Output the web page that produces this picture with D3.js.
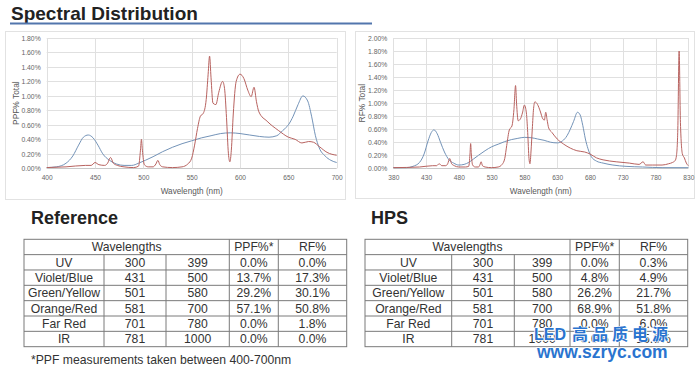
<!DOCTYPE html>
<html>
<head>
<meta charset="utf-8">
<script src="https://cdn.jsdelivr.net/npm/d3@7"></script>
<style>
   body { margin: 0; background: #fff; }
   svg text { font-family: "Liberation Sans", Arial, sans-serif; }
</style>
</head>
<body>
<svg id="chart" width="700" height="371"></svg>
<script>
// ---- spectrum data ----
// LED reference, PPF% (400-700nm)
var refPpfNm  = [400, 410, 420, 427, 433, 438, 443, 448, 453, 458, 465, 472, 480, 488, 495, 502, 510, 520, 530, 540, 550, 560, 570, 580, 590, 600, 610, 620, 630, 638, 644, 650, 655, 660, 665, 670, 674, 678, 682, 688, 694, 700];
var refPpfVal = [0.01, 0.02, 0.07, 0.17, 0.32, 0.43, 0.46, 0.42, 0.32, 0.20, 0.11, 0.06, 0.04, 0.04, 0.07, 0.11, 0.16, 0.23, 0.29, 0.34, 0.38, 0.42, 0.45, 0.48, 0.49, 0.48, 0.46, 0.44, 0.43, 0.45, 0.52, 0.60, 0.72, 0.88, 1.00, 0.93, 0.72, 0.45, 0.28, 0.17, 0.11, 0.08];

// HPS, PPF%
var hpsPpfNm  = [400, 420, 440, 446, 450, 454, 460, 463, 466, 469, 473, 480, 490, 495, 497, 498, 499, 501, 505, 510, 513, 515, 517, 520, 530, 540, 546, 550, 553, 556, 559, 562, 565, 567, 568.5, 570, 572, 575, 578, 582, 584, 586, 588, 589.5, 591, 593, 596, 600, 604, 608, 611.5, 614.5, 617, 619.5, 628, 640, 650, 657, 664, 671, 676, 682, 690, 700];
var hpsPpfVal = [0.01, 0.02, 0.04, 0.04, 0.08, 0.05, 0.04, 0.07, 0.15, 0.07, 0.04, 0.02, 0.01, 0.03, 0.25, 0.40, 0.25, 0.05, 0.02, 0.02, 0.06, 0.11, 0.05, 0.02, 0.01, 0.02, 0.06, 0.14, 0.32, 0.55, 0.72, 0.76, 0.95, 1.30, 1.55, 1.25, 0.90, 0.88, 1.05, 1.20, 1.10, 0.70, 0.20, 0.09, 0.25, 0.75, 1.20, 1.30, 1.24, 1.08, 0.99, 1.12, 0.92, 0.78, 0.65, 0.52, 0.43, 0.40, 0.35, 0.37, 0.36, 0.30, 0.22, 0.18];

// LED reference, RF% (380-830nm)
var refRfNm  = [380, 400, 410, 420, 427, 433, 438, 442, 447, 452, 458, 465, 472, 480, 488, 495, 502, 510, 520, 530, 540, 550, 560, 570, 580, 590, 600, 610, 620, 630, 638, 645, 650, 655, 661, 665, 669, 673, 677, 682, 690, 700, 715, 735, 760, 790, 830];
var refRfVal = [0.01, 0.01, 0.03, 0.09, 0.22, 0.42, 0.55, 0.59, 0.53, 0.40, 0.25, 0.13, 0.08, 0.05, 0.06, 0.09, 0.14, 0.20, 0.27, 0.33, 0.37, 0.41, 0.44, 0.46, 0.475, 0.47, 0.45, 0.43, 0.40, 0.39, 0.42, 0.50, 0.60, 0.72, 0.86, 0.82, 0.66, 0.45, 0.30, 0.18, 0.11, 0.08, 0.05, 0.03, 0.02, 0.01, 0.01];

// HPS, RF%
var hpsRfNm  = [380, 420, 440, 446, 450, 454, 460, 463, 466, 469, 473, 480, 490, 495, 497, 498, 499, 501, 505, 510, 512, 514, 516, 520, 530, 540, 546, 550, 553, 557, 561, 564, 566.5, 568, 570.5, 574, 577, 580, 583, 585, 587, 588.5, 590, 592, 594, 596, 600, 604, 608, 610.5, 612.5, 614.5, 617, 622, 630, 640, 650, 660, 672, 680, 690, 700, 720, 740, 755, 761, 765, 775, 790, 800, 806, 810, 812, 814, 816, 818, 821, 824, 827, 830];
var hpsRfVal = [0.01, 0.02, 0.04, 0.04, 0.07, 0.04, 0.04, 0.07, 0.15, 0.07, 0.04, 0.02, 0.02, 0.03, 0.22, 0.38, 0.22, 0.05, 0.02, 0.02, 0.05, 0.10, 0.04, 0.02, 0.01, 0.02, 0.06, 0.15, 0.35, 0.59, 0.65, 0.90, 1.27, 1.00, 0.73, 0.76, 0.85, 0.97, 0.85, 0.55, 0.15, 0.07, 0.25, 0.60, 0.92, 1.02, 0.98, 0.88, 0.76, 0.74, 0.86, 0.75, 0.62, 0.55, 0.45, 0.37, 0.31, 0.27, 0.25, 0.22, 0.16, 0.13, 0.10, 0.08, 0.06, 0.10, 0.05, 0.05, 0.05, 0.07, 0.09, 0.12, 0.20, 0.60, 1.80, 0.70, 0.22, 0.16, 0.08, 0.04];

var ppfTicks = [400, 450, 500, 550, 600, 650, 700];
var rfTicks  = [380, 430, 480, 530, 580, 630, 680, 730, 780, 830];

// ---- table data ----
var bands   = ["UV", "Violet/Blue", "Green/Yellow", "Orange/Red", "Far Red", "IR"];
var bandLo  = [300, 431, 501, 581, 701, 781];
var bandHi  = [399, 500, 580, 700, 780, 1000];
var refPpf  = [0.0, 13.7, 29.2, 57.1, 0.0, 0.0];
var refRf   = [0.0, 17.3, 30.1, 50.8, 1.8, 0.0];
var hpsPpf  = [0.0, 4.8, 26.2, 68.9, 0.0, 0.0];
var hpsRf   = [0.3, 4.9, 21.7, 51.8, 6.0, 15.3];

var blueColor = "#7393b8";
var redColor = "#b8625f";

var svg = d3.select("#chart");

// Title with blue rule underneath
svg.append("text")
   .attr("x", 11)
   .attr("y", 20)
   .attr("font-size", "19px")
   .attr("font-weight", "bold")
   .attr("fill", "#222")
   .text("Spectral Distribution");

svg.append("line")
   .attr("x1", 10).attr("x2", 372)
   .attr("y1", 23.5).attr("y2", 23.5)
   .attr("stroke", "#5276ad")
   .attr("stroke-width", 2);

function drawSpectrum(o) {
   // light panel frame
   svg.append("rect")
      .attr("x", o.panel[0] + 0.5)
      .attr("y", o.panel[1] + 0.5)
      .attr("width", o.panel[2] - o.panel[0])
      .attr("height", o.panel[3] - o.panel[1])
      .attr("fill", "#fff")
      .attr("stroke", "#e2e2e2");

   var xScale = d3.scaleLinear().domain(o.xDomain).range([o.left, o.right]);
   var yScale = d3.scaleLinear().domain([0, o.yMax]).range([o.bottom, o.top]);

   var g = svg.append("g");

   // horizontal grid
   var yTicks = d3.range(0, o.yMax + 0.001, 0.2);
   g.selectAll(".hgrid")
      .data(yTicks)
      .enter().append("line")
      .attr("x1", o.left).attr("x2", o.right)
      .attr("y1", function (d) { return Math.round(yScale(d)) + 0.5; })
      .attr("y2", function (d) { return Math.round(yScale(d)) + 0.5; })
      .attr("stroke", function (d) { return d === 0 ? "#c8c8c8" : "#e0e0e0"; });

   // vertical grid
   g.selectAll(".vgrid")
      .data(o.xTicks)
      .enter().append("line")
      .attr("x1", function (d) { return Math.round(xScale(d)) + 0.5; })
      .attr("x2", function (d) { return Math.round(xScale(d)) + 0.5; })
      .attr("y1", o.top).attr("y2", o.bottom)
      .attr("stroke", "#e0e0e0");

   // Y axis labels (values are already percentages)
   var yAxis = g.append("g")
      .attr("transform", "translate(" + o.left + ",0)")
      .call(d3.axisLeft(yScale).tickValues(yTicks)
         .tickFormat(function (d) { return d3.format(".2f")(d) + "%"; })
         .tickSize(0).tickPadding(6));
   yAxis.select(".domain").remove();
   yAxis.selectAll("text")
      .attr("font-size", "6.8px")
      .attr("font-family", "Liberation Sans, Arial, sans-serif")
      .attr("fill", "#666");

   // X axis labels
   var xAxis = g.append("g")
      .attr("transform", "translate(0," + o.bottom + ")")
      .call(d3.axisBottom(xScale).tickValues(o.xTicks).tickFormat(d3.format("d")).tickSize(0).tickPadding(7));
   xAxis.select(".domain").remove();
   xAxis.selectAll("text")
      .attr("font-size", "6.6px")
      .attr("font-family", "Liberation Sans, Arial, sans-serif")
      .attr("fill", "#666");

   // axis titles
   g.append("text")
      .attr("x", (o.left + o.right) / 2)
      .attr("y", o.bottom + 25.5)
      .attr("text-anchor", "middle")
      .attr("font-size", "8.2px")
      .attr("fill", "#595959")
      .text("Wavelength (nm)");

   g.append("text")
      .attr("transform", "translate(" + o.yTitleX + "," + ((o.top + o.bottom) / 2) + ") rotate(-90)")
      .attr("text-anchor", "middle")
      .attr("font-size", "8.4px")
      .attr("fill", "#595959")
      .text(o.yTitle);

   var line = d3.line()
      .x(function (d) { return xScale(d[0]); })
      .y(function (d) { return yScale(d[1]); })
      .curve(d3.curveMonotoneX);

   o.series.forEach(function (s) {
      var pts = s.nm.map(function (n, i) { return [n, s.val[i]]; });
      g.append("path")
         .datum(pts)
         .attr("fill", "none")
         .attr("stroke", s.color)
         .attr("stroke-width", 1)
         .attr("d", line);
   });
}

drawSpectrum({
   panel: [5, 31, 345, 199],
   left: 46.7, right: 336.7, top: 38, bottom: 168.3,
   xDomain: [400, 700], xTicks: ppfTicks, yMax: 1.8,
   yTitle: "PPF% Total", yTitleX: 19,
   series: [
      { nm: refPpfNm, val: refPpfVal, color: blueColor },
      { nm: hpsPpfNm, val: hpsPpfVal, color: redColor }
   ]
});

drawSpectrum({
   panel: [355, 31, 694, 198],
   left: 393.3, right: 688.3, top: 38, bottom: 168.3,
   xDomain: [380, 830], xTicks: rfTicks, yMax: 2.0,
   yTitle: "RF% Total", yTitleX: 365,
   series: [
      { nm: refRfNm, val: refRfVal, color: blueColor },
      { nm: hpsRfNm, val: hpsRfVal, color: redColor }
   ]
});

// ---- tables ----
var pct = function (v) { return d3.format(".1f")(v) + "%"; };

function drawTable(title, titleX, cols, ppf, rf) {
   var top = 239.3, rowH = 15.34;
   var g = svg.append("g");

   g.append("text")
      .attr("x", titleX)
      .attr("y", 224)
      .attr("font-size", "18px")
      .attr("font-weight", "bold")
      .attr("fill", "#222")
      .text(title);

   var bottom = top + rowH * 7;

   // outer frame
   g.append("rect")
      .attr("x", cols[0]).attr("y", top)
      .attr("width", cols[5] - cols[0]).attr("height", bottom - top)
      .attr("fill", "none")
      .attr("stroke", "#7a7a7a");

   // row lines
   d3.range(1, 7).forEach(function (r) {
      g.append("line")
         .attr("x1", cols[0]).attr("x2", cols[5])
         .attr("y1", top + r * rowH).attr("y2", top + r * rowH)
         .attr("stroke", "#7a7a7a");
   });

   // column lines (first two skip the header row)
   [1, 2, 3, 4].forEach(function (c) {
      g.append("line")
         .attr("x1", cols[c]).attr("x2", cols[c])
         .attr("y1", c < 3 ? top + rowH : top).attr("y2", bottom)
         .attr("stroke", "#7a7a7a");
   });

   var mid = function (c) { return (cols[c] + cols[c + 1]) / 2; };
   var cell = function (x, r, txt) {
      g.append("text")
         .attr("x", x)
         .attr("y", top + r * rowH + rowH / 2 + 4.3)
         .attr("text-anchor", "middle")
         .attr("font-size", "12.2px")
         .attr("fill", "#333")
         .text(txt);
   };

   cell((cols[0] + cols[3]) / 2, 0, "Wavelengths");
   cell(mid(3), 0, "PPF%*");
   cell(mid(4), 0, "RF%");

   bands.forEach(function (b, i) {
      cell(mid(0), i + 1, b);
      cell(mid(1), i + 1, bandLo[i]);
      cell(mid(2), i + 1, bandHi[i]);
      cell(mid(3), i + 1, pct(ppf[i]));
      cell(mid(4), i + 1, pct(rf[i]));
   });
}

drawTable("Reference", 31, [24, 104, 166, 229.3, 278.3, 346.7], refPpf, refRf);
drawTable("HPS", 371, [365, 451.7, 514.3, 570, 619.3, 687.7], hpsPpf, hpsRf);

svg.append("text")
   .attr("x", 31)
   .attr("y", 364)
   .attr("font-size", "12.2px")
   .attr("fill", "#333")
   .text("*PPF measurements taken between 400-700nm");

// watermark over the HPS table
var wm = svg.append("text")
   .attr("x", 534)
   .attr("y", 340)
   .attr("font-size", "16px")
   .attr("font-weight", "bold")
   .attr("fill", "#2a74cf")
   .attr("stroke", "#fff")
   .attr("stroke-width", 1.5)
   .attr("paint-order", "stroke")
   .attr("font-family", "Liberation Sans, Noto Sans CJK SC, sans-serif");
wm.append("tspan").text("LED");
wm.append("tspan")
   .attr("dx", 6)
   .attr("letter-spacing", "4px")
   .attr("font-family", "Noto Sans CJK SC, sans-serif")
   .text("高品质电源");

svg.append("text")
   .attr("x", 537)
   .attr("y", 358)
   .attr("font-size", "17.5px")
   .attr("font-weight", "bold")
   .attr("fill", "#2a74cf")
   .attr("stroke", "#fff")
   .attr("stroke-width", 1.5)
   .attr("paint-order", "stroke")
   .text("www.szryc.com");
</script>
</body>
</html>
